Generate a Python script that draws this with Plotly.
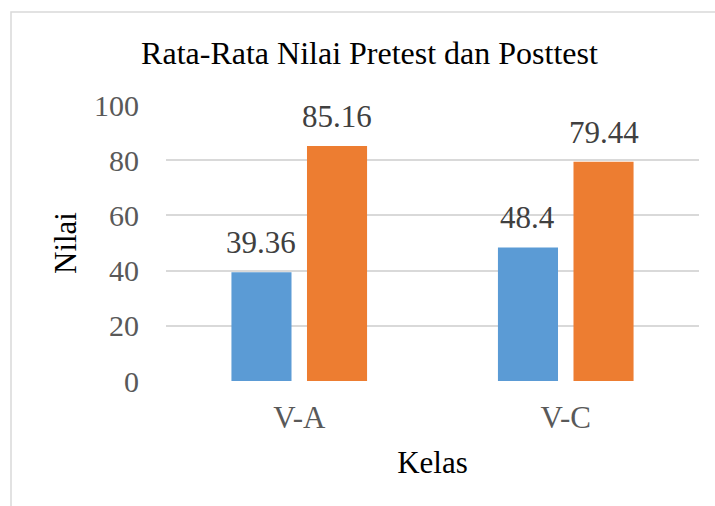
import plotly.graph_objects as go

categories = ["V-A", "V-C"]
pretest = [39.36, 48.4]
posttest = [85.16, 79.44]
y_ticks = [0, 20, 40, 60, 80, 100]

FONT = "Liberation Serif, Times New Roman, serif"

L, R, T, B = 166, 16, 105, 125
W, H = 715, 506
pw, ph = W - L - R, H - T - B
BARGAP, BARGROUPGAP = 0.433, 0.205

fig = go.Figure()
fig.add_trace(go.Bar(
    name="Pretest", x=categories, y=pretest,
    marker=dict(color="#5B9BD5", line=dict(width=0)),
))
fig.add_trace(go.Bar(
    name="Posttest", x=categories, y=posttest,
    marker=dict(color="#ED7D31", line=dict(width=0)),
))

# data labels above each bar, offset to the centre of each grouped bar
slot_px = pw / len(categories) * (1 - BARGAP) / 2
annotations = []
for series, sign in ((pretest, -1), (posttest, 1)):
    for cat, v in zip(categories, series):
        annotations.append(dict(
            x=cat, y=v, xref="x", yref="y", text=f"{v:g}", showarrow=False,
            xanchor="center", yanchor="bottom", xshift=sign * slot_px / 2, yshift=10,
            font=dict(family=FONT, size=31, color="#404040"),
        ))

fig.update_layout(
    width=W, height=H,
    margin=dict(l=L, r=R, t=T, b=B, autoexpand=False),
    paper_bgcolor="white", plot_bgcolor="white",
    showlegend=False,
    barmode="group", bargap=BARGAP, bargroupgap=BARGROUPGAP,
    title=dict(
        text="Rata-Rata Nilai Pretest dan Posttest",
        font=dict(family=FONT, size=32, color="black"),
        x=369.5 / W, xanchor="center", xref="container",
        y=1 - 53 / H, yanchor="middle", yref="container",
    ),
    xaxis=dict(
        tickfont=dict(family=FONT, size=31, color="#595959"),
        showgrid=False, zeroline=False, showline=False, ticks="",
        ticklabelstandoff=15,
        title=dict(text="Kelas", font=dict(family=FONT, size=31, color="black"), standoff=17),
    ),
    yaxis=dict(
        range=[0, 100], tickvals=y_ticks,
        tickfont=dict(family=FONT, size=30, color="#595959"),
        showgrid=True, gridcolor="#D9D9D9", gridwidth=1.5,
        zeroline=False, showline=False, ticks="",
        ticklabelstandoff=26,
        title=dict(text="Nilai", font=dict(family=FONT, size=31, color="black"), standoff=8),
    ),
    annotations=annotations,
    shapes=[dict(
        type="rect", xref="paper", yref="paper",
        x0=(11 - L) / pw, x1=(W + 20 - L) / pw,
        y0=-(H + 20 - (H - B)) / ph, y1=((H - B) - 12) / ph,
        line=dict(color="#D9D9D9", width=1.5), fillcolor="rgba(0,0,0,0)", layer="below",
    )],
)

fig.write_html("out.html", config={"displayModeBar": False},
               post_script="document.body.style.margin='0';")
